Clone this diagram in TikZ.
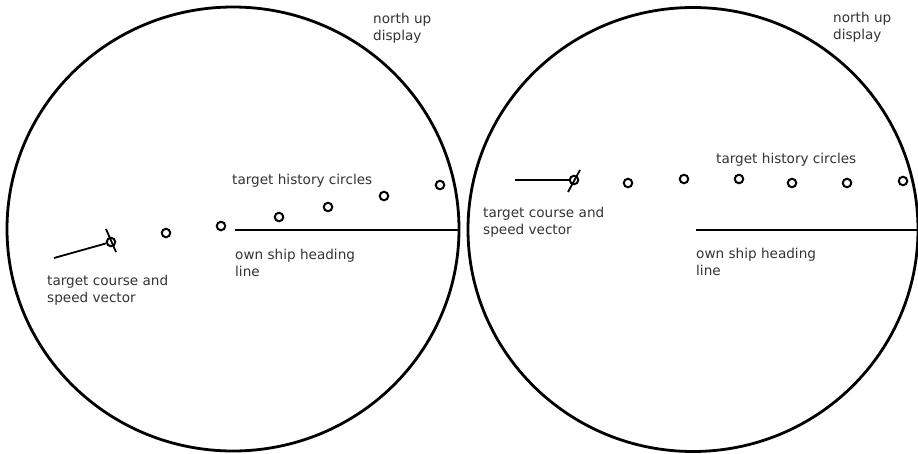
\documentclass[tikz,border=0pt]{standalone}
\usepackage{fontspec}
\setmainfont{DejaVu Sans}
\usetikzlibrary{shapes.geometric}
\definecolor{txt}{HTML}{333333}
\tikzset{
  scope/.style={draw, ellipse, inner sep=0pt, line width=2.8pt},
  hist/.style={draw, circle, inner sep=0pt, minimum size=8.5pt, line width=2pt},
  lbl/.style={anchor=base west, inner sep=0pt, text=txt, font=\fontsize{13.6}{17}\selectfont},
  heading/.style={line width=2.4pt},
  vec/.style={line width=1.8pt},
}
\newcommand{\twolines}[2]{\vtop{\hbox{#1}\hbox{#2}}}
\begin{document}
\begin{tikzpicture}[x=1pt,y=-1pt]
\useasboundingbox (0,0) rectangle (918,453);
\fill[white] (0,0) rectangle (918,453);

% ---------- left display ----------
\node[scope, minimum width=452pt, minimum height=444pt] (L) at (233,229) {};
\coordinate (Lh) at (235,230);
\draw[heading] (Lh) -- (L.east |- Lh);

\node[hist] (La) at (166,233) {};
\node[hist] (Lb) at (221,226) {};
\node[hist] (Lc) at (279,217) {};
\node[hist] (Ld) at (328,207) {};
\node[hist] (Le) at (384,196) {};
\node[hist] (Lf) at (440,185) {};

\node[hist] (Lt) at (111,242) {};
\coordinate (Lv) at (54,258);
\draw[vec] (Lv) -- (Lt);
\coordinate (Lk1) at (106,229);
\coordinate (Lk2) at (116,252);
\draw[vec] (Lk1) -- (Lk2);

\node[lbl] (Lnu) at (373,23) {\twolines{north up}{display}};
\node[lbl] (Lth) at (232,184) {target history circles};
\node[lbl] (Los) at (235,259) {\twolines{own ship heading}{line}};
\node[lbl] (Ltc) at (47,285) {\twolines{target course and}{speed vector}};

% ---------- right display ----------
\node[scope, minimum width=450pt, minimum height=444pt] (R) at (693,229.5) {};
\coordinate (Rh) at (696,230);
\draw[heading] (Rh) -- (R.east |- Rh);

\node[hist] (Ra) at (628,183) {};
\node[hist] (Rb) at (684,179) {};
\node[hist] (Rc) at (739,179) {};
\node[hist] (Rd) at (792,183) {};
\node[hist] (Re) at (847,183) {};
\node[hist] (Rf) at (903,181) {};

\node[hist] (Rt) at (574,180) {};
\coordinate (Rv) at (515,180);
\draw[vec] (Rv) -- (Rt);
\coordinate (Rk1) at (580,170);
\coordinate (Rk2) at (568,192);
\draw[vec] (Rk1) -- (Rk2);

\node[lbl] (Rnu) at (833,22) {\twolines{north up}{display}};
\node[lbl] (Rth) at (716,163) {target history circles};
\node[lbl] (Ros) at (696,258) {\twolines{own ship heading}{line}};
\node[lbl] (Rtc) at (483,217) {\twolines{target course and}{speed vector}};
\end{tikzpicture}
\end{document}
